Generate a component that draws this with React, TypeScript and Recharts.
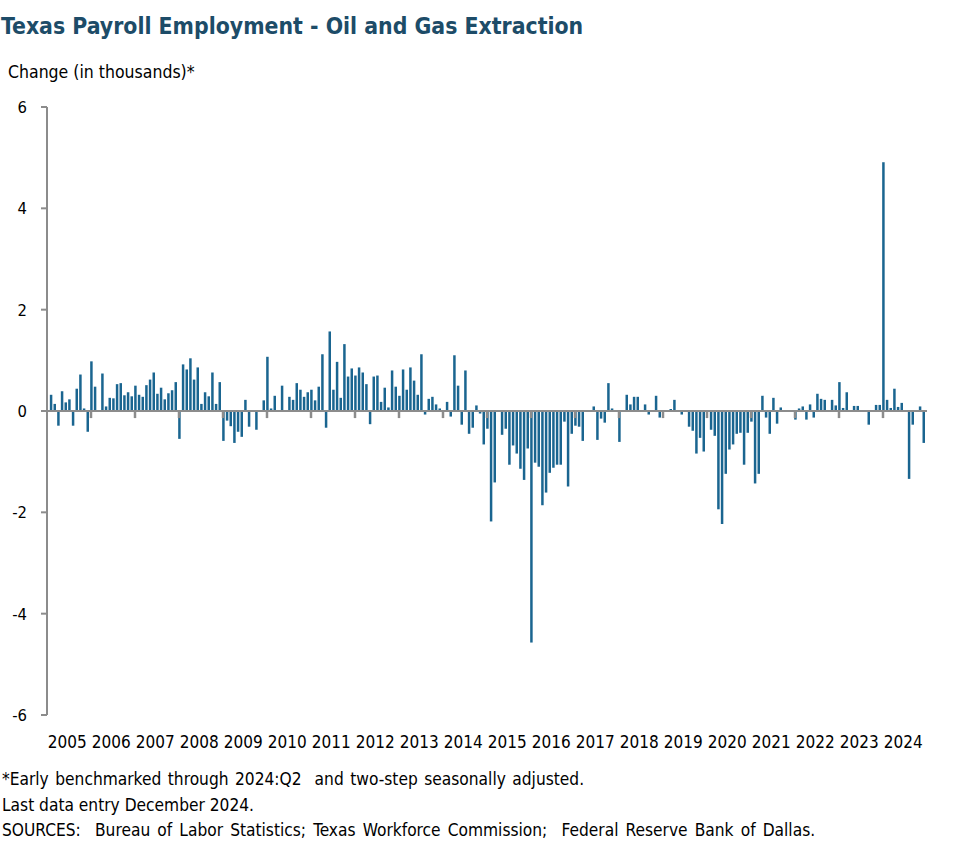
import React from "react";
import { ComposedChart, Bar, XAxis, YAxis, ReferenceLine } from "recharts";

// Monthly change in Texas oil and gas extraction payroll employment (thousands)
const years = [2005, 2006, 2007, 2008, 2009, 2010, 2011, 2012, 2013, 2014, 2015, 2016, 2017, 2018, 2019, 2020, 2021, 2022, 2023, 2024];

const c2005 = [0, 0.32, 0.14, -0.29, 0.39, 0.17, 0.23, -0.29, 0.44, 0.72, 0.05, -0.41];
const c2006 = [0.98, 0.48, 0.02, 0.74, 0.09, 0.26, 0.25, 0.53, 0.55, 0.31, 0.37, 0.29];
const c2007 = [0.5, 0.32, 0.28, 0.51, 0.62, 0.76, 0.34, 0.46, 0.23, 0.35, 0.41, 0.57];
const c2008 = [-0.55, 0.92, 0.82, 1.04, 0.62, 0.86, 0.14, 0.37, 0.29, 0.76, 0.14, 0.57];
const c2009 = [-0.59, -0.19, -0.3, -0.63, -0.41, -0.51, 0.22, -0.31, 0, -0.37, 0, 0.21];
const c2010 = [1.07, 0.05, 0.3, 0, 0.5, 0, 0.28, 0.22, 0.55, 0.42, 0.28, 0.37];
const c2011 = [0.42, 0.21, 0.48, 1.12, -0.33, 1.57, 0.42, 0.97, 0.26, 1.32, 0.68, 0.84];
const c2012 = [0.7, 0.86, 0.76, 0.53, -0.26, 0.68, 0.7, 0.18, 0.46, 0.07, 0.8, 0.48];
const c2013 = [0.3, 0.82, 0.42, 0.86, 0.6, 0.32, 1.12, -0.07, 0.24, 0.28, 0.13, 0.05];
const c2014 = [0, 0.18, -0.11, 1.1, 0.5, -0.27, 0.8, -0.45, -0.33, 0.11, -0.05, -0.66];
const c2015 = [-0.35, -2.18, -1.41, 0, -0.47, -0.35, -1.06, -0.68, -0.84, -1.14, -1.36, -0.74];
const c2016 = [-4.57, -1.02, -1.1, -1.86, -1.61, -1.22, -1.12, -1.06, -1.06, -0.21, -1.49, -0.45];
const c2017 = [-0.29, -0.31, -0.59, 0, 0.02, 0.09, -0.57, -0.15, -0.23, 0.55, 0.05, 0.02];
const c2018 = [-0.61, 0, 0.32, 0.13, 0.28, 0.28, 0, 0.13, -0.07, 0.02, 0.3, -0.13];
const c2019 = [0, 0, 0.04, 0.22, 0, -0.07, 0.02, -0.31, -0.39, -0.84, -0.53, -0.8];
const c2020 = [0, -0.37, -0.49, -1.94, -2.23, -1.24, -0.76, -0.66, -0.45, -0.43, -1.06, -0.43];
const c2021 = [-0.21, -1.43, -1.24, 0.3, -0.13, -0.45, 0.26, -0.25, 0.07, 0, 0.02, 0];
const c2022 = [-0.17, 0.05, 0.09, -0.17, 0.13, -0.13, 0.34, 0.24, 0.22, 0.02, 0.22, 0.11];
const c2023 = [0.57, 0.06, 0.37, 0, 0.1, 0.1, 0, 0, -0.27, 0, 0.12, 0.12];
const c2024 = [4.91, 0.22, 0.06, 0.44, 0.08, 0.16, 0, -1.34, -0.27, 0, 0.09, -0.63];

const yearly = [c2005, c2006, c2007, c2008, c2009, c2010, c2011, c2012, c2013, c2014, c2015, c2016, c2017, c2018, c2019, c2020, c2021, c2022, c2023, c2024];

const yTicks = [-6, -4, -2, 0, 2, 4, 6];

const data = yearly.flatMap((arr, yi) => arr.map((v, mi) => ({ m: yi * 12 + mi, v })));
const labelTicks = years.map((_, i) => i * 12 + 5.5);
const janTicks = years.slice(1).map((_, i) => (i + 1) * 12);

const FONT = "'DejaVu Sans Condensed', 'DejaVu Sans', sans-serif";
const GRAY = "#8c8c8c";

export default function App() {
  return (
    <div style={{ position: "absolute", left: 0, top: 0, width: 977, height: 864, background: "#fff", fontFamily: FONT }}>
      <div style={{ position: "absolute", left: 1, top: 13, fontSize: 22.8, fontWeight: 700, color: "#1d4c68", whiteSpace: "nowrap" }}>
        Texas Payroll Employment - Oil and Gas Extraction
      </div>
      <div style={{ position: "absolute", left: 8, top: 62, fontSize: 17.5, color: "#000", whiteSpace: "nowrap" }}>
        Change (in thousands)*
      </div>
      <div style={{ position: "absolute", left: 0, top: 0 }}>
        <ComposedChart width={977} height={770} data={data} margin={{ top: 107, right: 50, bottom: 15, left: 0 }}>
          <XAxis
            dataKey="m"
            type="number"
            domain={[0, 240]}
            ticks={labelTicks}
            interval={0}
            tickFormatter={(v: number) => String(years[Math.floor(v / 12)])}
            axisLine={false}
            tickLine={false}
            tickSize={6}
            tickMargin={15}
            height={40}
            tick={{ fill: "#000", fontSize: 17, fontFamily: FONT }}
          />
          <YAxis
            type="number"
            domain={[-6, 6]}
            ticks={yTicks}
            interval={0}
            width={47}
            axisLine={{ stroke: GRAY, strokeWidth: 2 }}
            tickLine={{ stroke: GRAY, strokeWidth: 2 }}
            tickSize={6}
            tickMargin={14}
            tick={{ fill: "#000", fontSize: 16.5, fontFamily: FONT }}
          />
          <Bar dataKey="v" fill="#1a6590" barSize={2.5} isAnimationActive={false} />
          <ReferenceLine y={0} stroke={GRAY} strokeWidth={2} />
          {janTicks.map((t) => (
            <ReferenceLine
              key={t}
              segment={[{ x: t, y: 0 }, { x: t, y: -0.14 }]}
              stroke={GRAY}
              strokeWidth={2.5}
            />
          ))}
        </ComposedChart>
      </div>
      <div style={{ position: "absolute", left: 2, top: 767, fontSize: 17.2, color: "#000", lineHeight: "25.5px", whiteSpace: "pre" }}>
        <div style={{ wordSpacing: "1.6px" }}>{"*Early benchmarked through 2024:Q2  and two-step seasonally adjusted."}</div>
        <div>Last data entry December 2024.</div>
        <div style={{ wordSpacing: "2.2px" }}>{"SOURCES:  Bureau of Labor Statistics; Texas Workforce Commission;  Federal Reserve Bank of Dallas."}</div>
      </div>
    </div>
  );
}
